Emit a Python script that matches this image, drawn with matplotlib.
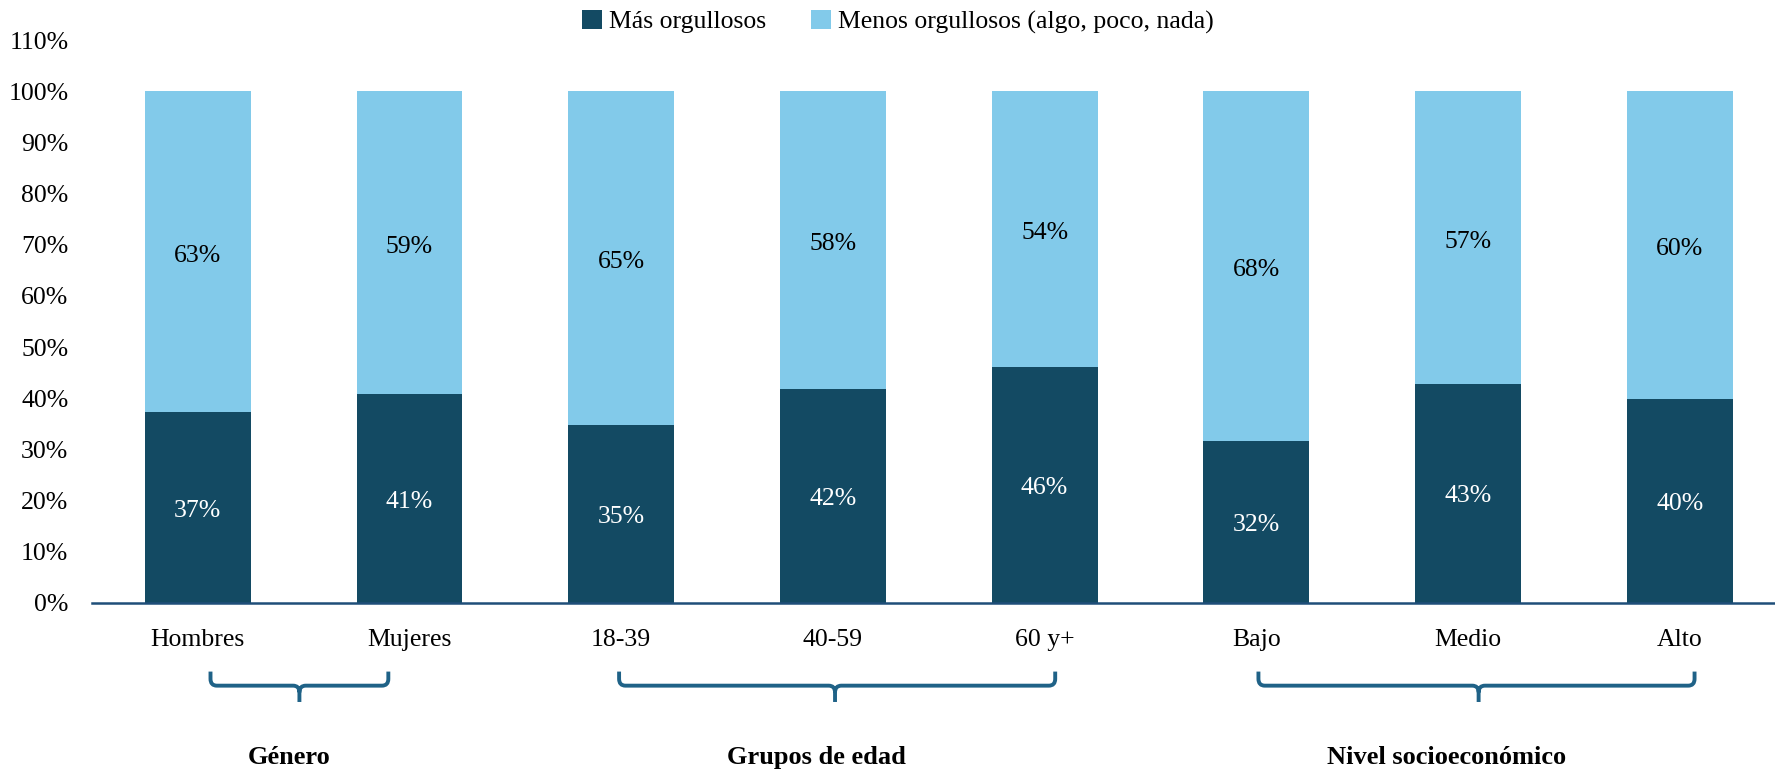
import matplotlib.pyplot as plt
import matplotlib.transforms as mtransforms
from matplotlib.path import Path
from matplotlib.patches import PathPatch

plt.rcParams['font.family'] = ['Liberation Serif', 'DejaVu Serif']

# data
categorias = ["Hombres", "Mujeres", "18-39", "40-59", "60 y+", "Bajo", "Medio", "Alto"]
mas_orgullosos = [37.3, 40.8, 34.8, 41.9, 46.1, 31.6, 42.8, 39.9]
menos_orgullosos = [62.7, 59.2, 65.2, 58.1, 53.9, 68.4, 57.2, 60.1]
etiquetas_mas = ["37%", "41%", "35%", "42%", "46%", "32%", "43%", "40%"]
etiquetas_menos = ["63%", "59%", "65%", "58%", "54%", "68%", "57%", "60%"]
y_ticks = [0, 10, 20, 30, 40, 50, 60, 70, 80, 90, 100, 110]

# groups: (name, brace start, brace end, brace middle, label x)
grupos = [
    ("Género", 0.06, 0.90, 0.48, 0.43),
    ("Grupos de edad", 1.99, 4.05, 3.01, 2.92),
    ("Nivel socioeconómico", 5.01, 7.07, 6.05, 5.90),
]

oscuro = "#134A63"
claro = "#82CAEA"
color_llave = "#1F6287"
fs = 18.5

fig = plt.figure(figsize=(17.75, 7.71), dpi=100)
ax = fig.add_axes([0.0518, 0.218, 0.9482, 0.730])

x = range(len(categorias))
ax.bar(x, mas_orgullosos, width=0.5, color=oscuro, label="Más orgullosos")
ax.bar(x, menos_orgullosos, width=0.5, bottom=mas_orgullosos, color=claro,
       label="Menos orgullosos (algo, poco, nada)")

for i in x:
    ax.text(i, mas_orgullosos[i] / 2 - 0.6, etiquetas_mas[i], ha="center", va="center",
            color="white", fontsize=fs)
    ax.text(i, mas_orgullosos[i] + menos_orgullosos[i] / 2 - 0.8, etiquetas_menos[i],
            ha="center", va="center", color="black", fontsize=fs)

ax.set_ylim(0, 110)
ax.set_xlim(-0.5, 7.45)
ax.set_yticks(y_ticks)
ax.set_yticklabels([f"{v}%" for v in y_ticks], fontsize=fs)
ax.set_xticks(list(x))
ax.set_xticklabels(categorias, fontsize=fs)
ax.tick_params(axis="both", length=0)
ax.tick_params(axis="y", pad=17)
ax.tick_params(axis="x", pad=19)
for s in ["top", "right", "left"]:
    ax.spines[s].set_visible(False)
ax.spines["bottom"].set_color("#1F4E79")
ax.spines["bottom"].set_linewidth(1.8)

# braces below the category labels
trans = mtransforms.blended_transform_factory(ax.transData, ax.transAxes)
y_top, y_h, y_bot = -0.122, -0.147, -0.176
rx, ry = 0.03, 0.012
for nombre, x0, x1, xm, xl in grupos:
    verts = [(x0, y_top), (x0, y_h + ry), (x0, y_h), (x0 + rx, y_h),
             (xm - rx, y_h), (xm, y_h), (xm, y_h - ry), (xm, y_bot),
             (x1, y_top), (x1, y_h + ry), (x1, y_h), (x1 - rx, y_h),
             (xm + rx, y_h), (xm, y_h), (xm, y_h - ry)]
    codes = [Path.MOVETO, Path.LINETO, Path.CURVE3, Path.CURVE3,
             Path.LINETO, Path.CURVE3, Path.CURVE3, Path.LINETO,
             Path.MOVETO, Path.LINETO, Path.CURVE3, Path.CURVE3,
             Path.LINETO, Path.CURVE3, Path.CURVE3]
    ax.add_patch(PathPatch(Path(verts, codes), transform=trans, fill=False,
                           edgecolor=color_llave, linewidth=2.8, clip_on=False,
                           capstyle="butt", joinstyle="round"))
    ax.text(xl, -0.275, nombre, transform=trans, ha="center", va="center",
            fontsize=fs + 0.5, fontweight="bold")

fig.legend(loc="upper center", bbox_to_anchor=(0.506, 1.017), ncol=2, frameon=False,
           fontsize=fs, handlelength=0.75, handleheight=0.75, handletextpad=0.3,
           columnspacing=1.75)

plt.savefig("out.png", dpi=100)
